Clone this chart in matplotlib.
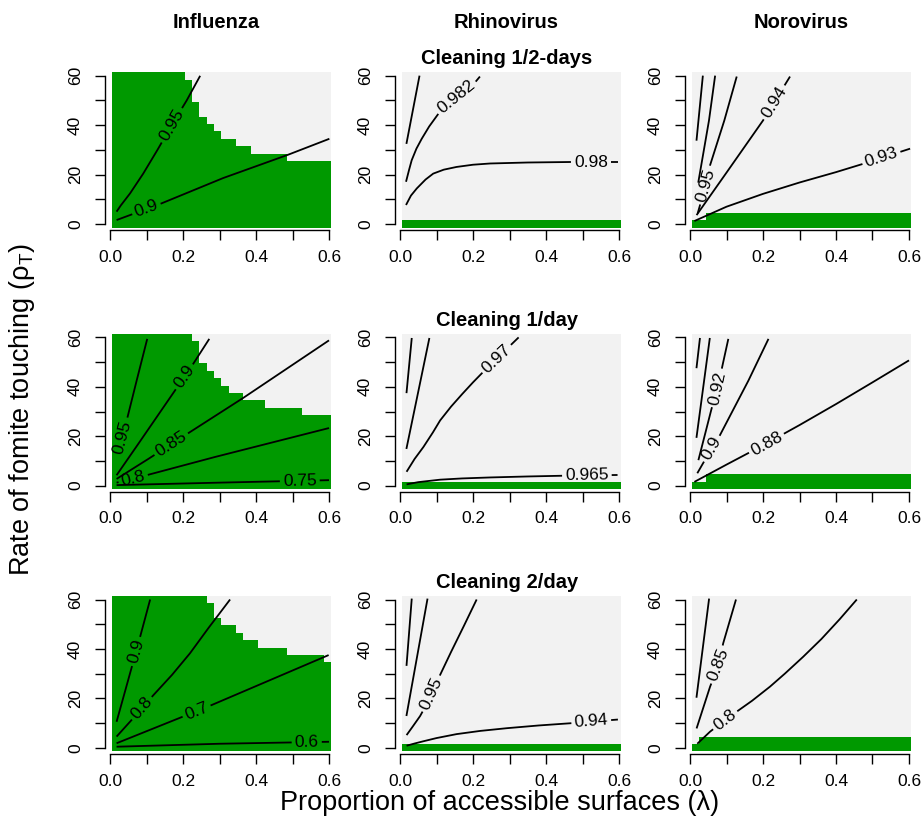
import numpy as np
import matplotlib
matplotlib.use("Agg")
import matplotlib.pyplot as plt

plt.rcParams["font.family"] = ["Liberation Sans", "DejaVu Sans"]
plt.rcParams["mathtext.fontset"] = "custom"
plt.rcParams["mathtext.rm"] = "Liberation Sans"
plt.rcParams["mathtext.it"] = "Liberation Sans:italic"

viruses = ["Influenza", "Rhinovirus", "Norovirus"]
cleaning = ["Cleaning 1/2-days", "Cleaning 1/day", "Cleaning 2/day"]

# model grid: lambda 0.01..0.6 (step 0.01), rho_T 0..60 (step 3)
grid_x = [0.005, 0.605]
grid_y = [-1.5, 61.5]

# green region (R below threshold) as column edges / heights
flu_half_edges = [0.005, 0.205, 0.225, 0.245, 0.265, 0.285, 0.305, 0.345, 0.385, 0.485, 0.605]
flu_half_tops = [61.5, 58.5, 49.5, 43.5, 40.5, 37.5, 34.5, 31.5, 28.5, 25.5]
flu_day_edges = [0.005, 0.225, 0.245, 0.265, 0.285, 0.305, 0.325, 0.365, 0.425, 0.525, 0.605]
flu_day_tops = [61.5, 58.5, 49.5, 46.5, 43.5, 40.5, 37.5, 34.5, 31.5, 28.5]
flu_2day_edges = [0.005, 0.265, 0.285, 0.305, 0.345, 0.365, 0.405, 0.485, 0.585, 0.605]
flu_2day_tops = [61.5, 58.5, 52.5, 49.5, 46.5, 43.5, 40.5, 37.5, 34.5]
rhino_edges = [0.005, 0.605]
rhino_tops = [1.5]
noro_edges = [0.005, 0.045, 0.605]
noro_tops = [1.5, 4.5]
noro_2day_edges = [0.005, 0.025, 0.605]
noro_2day_tops = [1.5, 4.5]

# contour lines: (level label, lambda values, rho_T values)
flu_half_lines = [
    ("0.95", [0.018, 0.03, 0.055, 0.091, 0.13, 0.169, 0.21, 0.247],
     [5, 7.6, 12.4, 20.4, 30, 40, 50, 60]),
    ("0.9", [0.018, 0.137, 0.31, 0.489, 0.601], [1.6, 8.1, 18.6, 28.1, 34.5]),
]
rhino_half_lines = [
    (None, [0.018, 0.053], [32.8, 59.7]),
    ("0.982", [0.0165, 0.025, 0.032, 0.045, 0.0595, 0.08, 0.105, 0.13, 0.155, 0.18, 0.206, 0.219],
     [17.1, 22, 25.8, 30.5, 34.5, 39.5, 44.6, 48.3, 51.3, 54.5, 57.4, 59.7]),
    ("0.98", [0.0165, 0.03, 0.046, 0.07, 0.091, 0.12, 0.155, 0.2, 0.247, 0.35, 0.466, 0.596],
     [7.7, 11.5, 14.4, 18, 20.4, 22, 23.1, 24, 24.5, 24.9, 25.1, 25.1]),
]
noro_half_lines = [
    (None, [0.018, 0.035], [34.1, 59.7]),
    (None, [0.023, 0.052, 0.0685], [17.1, 41.9, 59.7]),
    ("0.95", [0.021, 0.043, 0.055, 0.094, 0.128], [4.3, 15.7, 23.8, 41.9, 59.7]),
    ("0.94", [0.018, 0.1, 0.2, 0.274], [3.6, 20.8, 41.9, 59.7]),
    ("0.93", [0.012, 0.1, 0.2, 0.3, 0.4, 0.484, 0.603], [1.2, 7, 12.2, 16.8, 21, 24.8, 30.5]),
]
flu_day_lines = [
    ("0.95", [0.021, 0.034, 0.048, 0.073, 0.102], [12.3, 19.7, 27.7, 42.5, 59.4]),
    ("0.9", [0.018, 0.078, 0.178, 0.228, 0.272], [4.2, 17, 38.5, 49.3, 59.4]),
    ("0.85", [0.018, 0.105, 0.21, 0.365, 0.6], [2.7, 10.8, 20.8, 35.5, 58.8]),
    ("0.8", [0.018, 0.1, 0.288, 0.6], [1.2, 4.2, 11.6, 23.3]),
    ("0.75", [0.018, 0.3, 0.6], [0.2, 1.2, 2.2]),
]
rhino_day_lines = [
    (None, [0.018, 0.032], [37.8, 59.4]),
    (None, [0.018, 0.08], [15.2, 59.4]),
    ("0.97", [0.018, 0.04, 0.064, 0.09, 0.11, 0.14, 0.17, 0.2, 0.233, 0.265, 0.295, 0.325],
     [5.6, 10.8, 15.6, 21.5, 26.4, 32, 37, 41.8, 46.8, 51.3, 55.7, 60]),
    ("0.965", [0.018, 0.05, 0.11, 0.17, 0.247, 0.35, 0.448, 0.596],
     [0.5, 1.4, 2.4, 2.9, 3.3, 3.7, 4.0, 4.3]),
]
noro_day_lines = [
    (None, [0.018, 0.027], [47.9, 59.4]),
    (None, [0.018, 0.054], [19.7, 59.4]),
    ("0.92", [0.023, 0.059, 0.075, 0.09, 0.105], [10.3, 31.1, 39, 49.3, 59.4]),
    ("0.9", [0.02, 0.059, 0.082, 0.16, 0.215], [5, 15, 20.4, 42.5, 59.4]),
    ("0.88", [0.012, 0.1, 0.2, 0.3, 0.4, 0.5, 0.6], [1.5, 8.5, 16.3, 24.5, 33, 41.8, 50.7]),
]
flu_2day_lines = [
    ("0.9", [0.018, 0.05, 0.08, 0.11], [10.5, 27.5, 43.5, 60]),
    ("0.8", [0.018, 0.059, 0.087, 0.119, 0.17, 0.219, 0.27, 0.329],
     [4.5, 11.2, 16, 21.3, 29.5, 38.2, 48.5, 60]),
    ("0.7", [0.018, 0.2, 0.279, 0.599], [1.8, 12.6, 17.3, 37.5]),
    ("0.6", [0.018, 0.3, 0.6], [0.4, 1.6, 2.4]),
]
rhino_2day_lines = [
    (None, [0.018, 0.032], [33.5, 60]),
    (None, [0.018, 0.075], [13.2, 60]),
    ("0.95", [0.018, 0.035, 0.055, 0.07, 0.084, 0.11, 0.14, 0.175, 0.21],
     [5.1, 8.6, 12.8, 16.8, 21, 29.5, 38.8, 49.3, 60]),
    ("0.94", [0.018, 0.04, 0.064, 0.1, 0.155, 0.22, 0.293, 0.38, 0.467, 0.597],
     [0.8, 1.7, 2.6, 3.9, 5.5, 6.8, 7.9, 9, 9.9, 11.4]),
]
noro_2day_lines = [
    (None, [0.018, 0.052], [20.6, 60]),
    ("0.85", [0.018, 0.055, 0.078, 0.091, 0.126], [7.8, 24.7, 33.5, 42.3, 60]),
    ("0.8", [0.02, 0.055, 0.096, 0.128, 0.17, 0.219, 0.26, 0.31, 0.36, 0.41, 0.457],
     [1.6, 6.5, 11.2, 14.6, 19, 24.7, 30, 36.8, 44, 52, 60]),
]

# where each contour label sits (one point per labelled line, same order)
flu_half_labels = [(0.169, 40), (0.1, 6)]
rhino_half_labels = [(0.155, 51.3), (0.523, 24.8)]
noro_half_labels = [(0.043, 15.7), (0.23, 49.3), (0.525, 26.5)]
flu_day_labels = [(0.034, 19.7), (0.205, 43.9), (0.169, 16.5), (0.064, 2.6), (0.52, 1.8)]
rhino_day_labels = [(0.265, 51.3), (0.512, 4.1)]
noro_day_labels = [(0.075, 39.5), (0.059, 15), (0.21, 17)]
flu_2day_labels = [(0.073, 38.9), (0.087, 16), (0.237, 14.9), (0.539, 2.1)]
rhino_2day_labels = [(0.084, 22), (0.524, 10.5)]
noro_2day_labels = [(0.078, 33.5), (0.096, 11.2)]

panels = [
    [(flu_half_edges, flu_half_tops, flu_half_lines, flu_half_labels),
     (rhino_edges, rhino_tops, rhino_half_lines, rhino_half_labels),
     (noro_edges, noro_tops, noro_half_lines, noro_half_labels)],
    [(flu_day_edges, flu_day_tops, flu_day_lines, flu_day_labels),
     (rhino_edges, rhino_tops, rhino_day_lines, rhino_day_labels),
     (noro_edges, noro_tops, noro_day_lines, noro_day_labels)],
    [(flu_2day_edges, flu_2day_tops, flu_2day_lines, flu_2day_labels),
     (rhino_edges, rhino_tops, rhino_2day_lines, rhino_2day_labels),
     (noro_2day_edges, noro_2day_tops, noro_2day_lines, noro_2day_labels)],
]

GREEN = "#009900"
GRAY = "#F2F2F2"
W, H = 923, 832
fig = plt.figure(figsize=(W / 100, H / 100), dpi=100)
renderer = fig.canvas.get_renderer()

# pixel position of data origin for each column / row, and px per unit
col_x0 = [110, 400, 690]
row_y0 = [224, 485.6, 747.7]
px_x, px_y = 365, 2.47
xlim = (-0.013, 0.612)
ylim = (-2.6, 62)


def label_line(ax, xs, ys, text, at):
    # R-style contour label: text rotated along the line, line broken under it
    pts = ax.transData.transform(np.column_stack([xs, ys]))
    seg = np.diff(pts, axis=0)
    seglen = np.hypot(seg[:, 0], seg[:, 1])
    s = np.concatenate([[0], np.cumsum(seglen)])
    p = ax.transData.transform(at)
    best = None
    for i in range(len(seg)):
        t = np.clip(np.dot(p - pts[i], seg[i]) / np.dot(seg[i], seg[i]), 0, 1)
        q = pts[i] + t * seg[i]
        d = np.hypot(*(p - q))
        if best is None or d < best[0]:
            best = (d, s[i] + t * seglen[i], i, q)
    _, s0, i, q = best
    ang = np.degrees(np.arctan2(seg[i, 1], seg[i, 0]))
    if ang > 90:
        ang -= 180
    if ang < -90:
        ang += 180
    c = ax.transData.inverted().transform(q)
    t = ax.text(c[0], c[1], text, fontsize=12.5, ha="center", va="center")
    hw = t.get_window_extent(renderer).width / 2 + 3
    t.set_rotation(ang)
    t.set_rotation_mode("anchor")

    def at_s(sv):
        k = np.clip(np.searchsorted(s, sv) - 1, 0, len(seg) - 1)
        f = (sv - s[k]) / seglen[k]
        return pts[k] + f * seg[k]

    pieces = []
    if s0 - hw > 0:
        pieces.append(np.vstack([pts[s < s0 - hw], at_s(s0 - hw)]))
    if s0 + hw < s[-1]:
        pieces.append(np.vstack([at_s(s0 + hw), pts[s > s0 + hw]]))
    for pc in pieces:
        d = ax.transData.inverted().transform(pc)
        ax.plot(d[:, 0], d[:, 1], color="black", lw=1.3, solid_capstyle="butt")


for r in range(3):
    for c in range(3):
        left = col_x0[c] + xlim[0] * px_x
        bottom = row_y0[r] - ylim[0] * px_y
        ax = fig.add_axes([left / W, 1 - bottom / H,
                           (xlim[1] - xlim[0]) * px_x / W, (ylim[1] - ylim[0]) * px_y / H])
        ax.set_xlim(xlim)
        ax.set_ylim(ylim)
        edges, tops, lines, labels = panels[r][c]
        ax.stairs([grid_y[1]], grid_x, baseline=grid_y[0], fill=True, color=GRAY, lw=0)
        ax.stairs(tops, edges, baseline=grid_y[0], fill=True, color=GREEN, lw=0)
        k = 0
        for name, xs, ys in lines:
            if name is None:
                ax.plot(xs, ys, color="black", lw=1.3)
            else:
                label_line(ax, xs, ys, name, labels[k])
                k += 1
        for side in ["top", "right"]:
            ax.spines[side].set_visible(False)
        ax.spines["left"].set_bounds(0, 60)
        ax.spines["bottom"].set_bounds(0, 0.6)
        ax.spines["left"].set_linewidth(1.0)
        ax.spines["bottom"].set_linewidth(1.0)
        ax.set_xticks(np.arange(0, 0.61, 0.1))
        ax.set_xticklabels(["0.0", "", "0.2", "", "0.4", "", "0.6"])
        ax.set_yticks(np.arange(0, 61, 10))
        ax.set_yticklabels(["0", "", "20", "", "40", "", "60"], rotation=90, va="center")
        ax.tick_params(length=7, width=1.0, labelsize=12.5)
        ax.tick_params(axis="x", pad=7)
        ax.tick_params(axis="y", pad=9)

for c in range(3):
    fig.text([216, 506, 801][c] / W, 1 - 22 / H, viruses[c],
             ha="center", va="center", fontsize=14.5, fontweight="bold")
for r in range(3):
    fig.text(507 / W, 1 - (row_y0[r] - 165) / H, cleaning[r],
             ha="center", va="center", fontsize=14.5, fontweight="bold")

fig.text(500 / W, 1 - 803 / H, "Proportion of accessible surfaces (λ)",
         ha="center", va="center", fontsize=19.5)
fig.text(22 / W, 1 - 410 / H, r"Rate of fomite touching (ρ$_{\mathrm{T}}$)",
         ha="center", va="center", fontsize=19.5, rotation=90)

fig.savefig("out.png", dpi=100)
